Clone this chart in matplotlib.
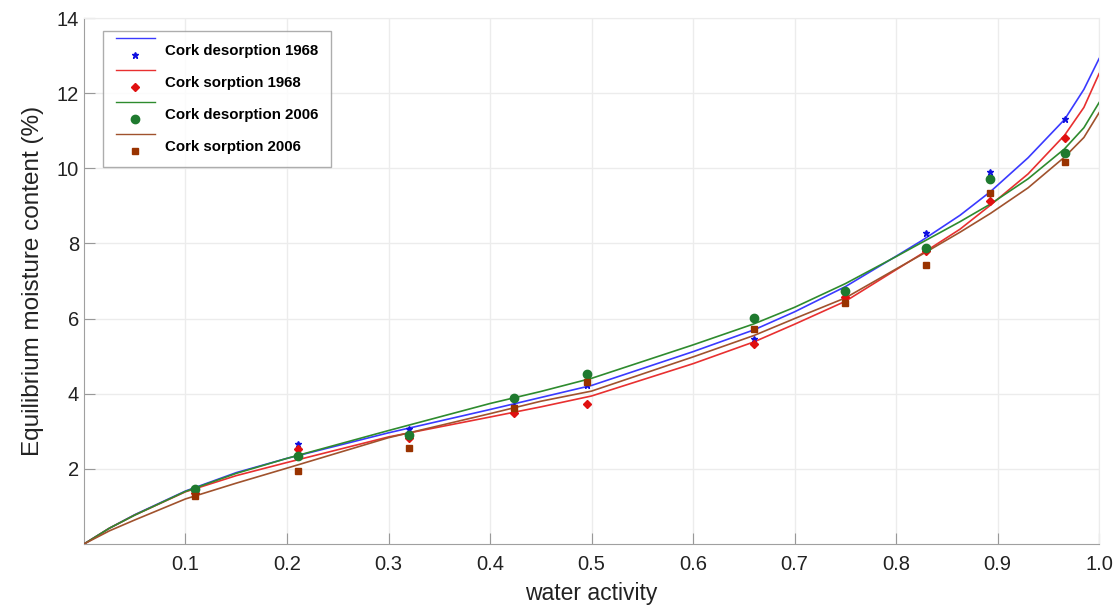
import matplotlib
matplotlib.use("Agg")
import matplotlib.pyplot as plt
from matplotlib.lines import Line2D
from matplotlib.legend_handler import HandlerBase

plt.rcParams['font.family'] = ['Liberation Sans', 'DejaVu Sans']

# measured points (water activity, moisture content %)
aw_pts = [0.109, 0.211, 0.320, 0.424, 0.496, 0.660, 0.750, 0.829, 0.893, 0.966]
des_1968 = [1.45, 2.66, 3.05, 3.67, 4.23, 5.45, 6.65, 8.27, 9.91, 11.30]
sor_1968 = [1.36, 2.54, 2.83, 3.48, 3.72, 5.32, 6.58, 7.81, 9.13, 10.80]
des_2006 = [1.46, 2.35, 2.90, 3.89, 4.52, 6.01, 6.74, 7.89, 9.71, 10.42]
sor_2006 = [1.28, 1.94, 2.55, 3.61, 4.32, 5.71, 6.42, 7.43, 9.35, 10.16]

# fitted curves
aw_fit = [0, 0.025, 0.05, 0.1, 0.15, 0.2, 0.3, 0.4, 0.45, 0.5, 0.6, 0.66, 0.7,
          0.75, 0.8, 0.825, 0.863, 0.893, 0.93, 0.966, 0.985, 1.0]
fit_des_1968 = [0, 0.42, 0.78, 1.41, 1.90, 2.28, 2.96, 3.58, 3.90, 4.22, 5.12, 5.70,
                6.18, 6.85, 7.66, 8.07, 8.75, 9.38, 10.28, 11.30, 12.10, 12.92]
fit_sor_1968 = [0, 0.42, 0.77, 1.39, 1.82, 2.17, 2.85, 3.38, 3.65, 3.94, 4.80, 5.38,
                5.85, 6.46, 7.30, 7.72, 8.38, 9.02, 9.85, 10.88, 11.62, 12.52]
fit_des_2006 = [0, 0.42, 0.77, 1.40, 1.88, 2.28, 3.02, 3.74, 4.06, 4.41, 5.30, 5.86,
                6.30, 6.93, 7.65, 8.02, 8.58, 9.05, 9.72, 10.52, 11.08, 11.75]
fit_sor_2006 = [0, 0.35, 0.64, 1.20, 1.62, 2.02, 2.83, 3.47, 3.80, 4.07, 4.98, 5.55,
                6.00, 6.55, 7.32, 7.70, 8.30, 8.80, 9.48, 10.30, 10.82, 11.48]

labels = ["Cork desorption 1968", "Cork sorption 1968",
          "Cork desorption 2006", "Cork sorption 2006"]
line_cols = ["#3a3aff", "#e83030", "#2e8b2e", "#a0522d"]
mark_cols = ["#1010e0", "#e01010", "#1f7a2f", "#993300"]
markers = ["*", "D", "o", "s"]
msizes = [5, 4.5, 6, 5]


class LineOverMarker(HandlerBase):
    # line sample on top, marker underneath (like the original legend)
    def create_artists(self, legend, orig_handle, xdescent, ydescent,
                       width, height, fontsize, trans):
        ln, mk = orig_handle
        y_line = height * 1.6 - ydescent
        y_mark = -ydescent
        l = Line2D([-xdescent, width - xdescent], [y_line, y_line],
                   color=ln.get_color(), lw=1.0)
        m = Line2D([width / 2 - xdescent], [y_mark], marker=mk.get_marker(),
                   markersize=mk.get_markersize(), color=mk.get_color(),
                   markeredgecolor=mk.get_markeredgecolor(), linestyle="none")
        l.set_transform(trans)
        m.set_transform(trans)
        return [l, m]


fig = plt.figure(figsize=(11.18, 6.09), dpi=100)
ax = fig.add_axes([0.0751, 0.1067, 0.908, 0.8637])

fits = [fit_des_1968, fit_sor_1968, fit_des_2006, fit_sor_2006]
pts = [des_1968, sor_1968, des_2006, sor_2006]
handles = []
for i in range(4):
    ln, = ax.plot(aw_fit, fits[i], color=line_cols[i], lw=1.2, zorder=3)
    mk, = ax.plot(aw_pts, pts[i], linestyle="none", marker=markers[i],
                  markersize=msizes[i], color=mark_cols[i],
                  markeredgecolor=mark_cols[i], zorder=4)
    handles.append((ln, mk))

ax.set_xlim(0, 1.0)
ax.set_ylim(0, 14)
ax.set_xticks([0.1, 0.2, 0.3, 0.4, 0.5, 0.6, 0.7, 0.8, 0.9, 1.0])
ax.set_xticklabels(["0.1", "0.2", "0.3", "0.4", "0.5", "0.6", "0.7", "0.8", "0.9", "1.0"])
ax.set_yticks([2, 4, 6, 8, 10, 12, 14])
ax.tick_params(direction="in", length=8, color="#999999", labelsize=14.5,
               labelcolor="#222222")
ax.tick_params(axis="x", pad=8)
ax.grid(True, color="#ececec", lw=1.0)
ax.set_axisbelow(True)
for s in ["top", "right"]:
    ax.spines[s].set_color("#ececec")
for s in ["left", "bottom"]:
    ax.spines[s].set_color("#a0a0a0")

ax.set_xlabel("water activity", fontsize=16.5, color="#222222", labelpad=6)
ax.set_ylabel("Equilibrium moisture content (%)", fontsize=17.5, color="#222222", labelpad=9)

leg = ax.legend(handles, labels, loc="upper left", bbox_to_anchor=(0.019, 0.975),
                handler_map={tuple: LineOverMarker()}, prop={"weight": "bold", "size": 10.8},
                frameon=True, fancybox=False, edgecolor="#999999", handlelength=2.6,
                handletextpad=0.65, labelspacing=1.2, borderpad=0.85, borderaxespad=0)
leg.get_frame().set_linewidth(1.0)

fig.savefig("out.png", dpi=100)
